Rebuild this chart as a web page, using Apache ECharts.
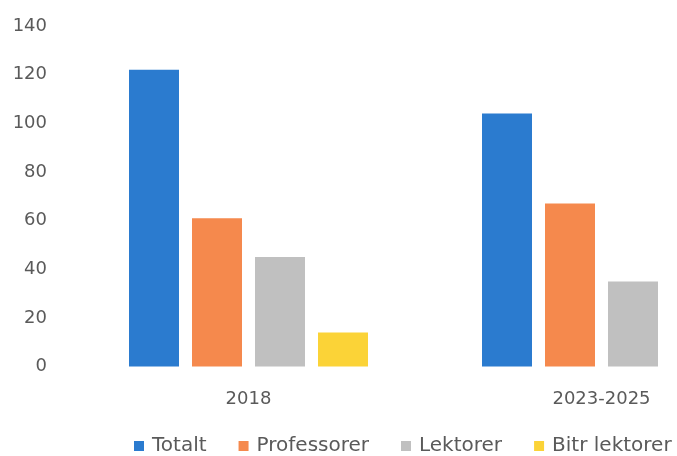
<!DOCTYPE html>
<html>
<head>
<meta charset="utf-8">
<script src="https://cdn.jsdelivr.net/npm/echarts@6/dist/echarts.min.js"></script>
<style>
html,body{margin:0;padding:0;overflow:hidden;background:#fff;width:677px;height:456px;}
#c{width:860px;height:456px;}
</style>
</head>
<body>
<div id="c"></div>
<script>
const categories = ['2018', '2023-2025'];
const seriesNames = ['Totalt', 'Professorer', 'Lektorer', 'Bitr lektorer'];
const totalt = [122, 104];
const professorer = [61, 67];
const lektorer = [45, 35];
const bitrLektorer = [14, null];
const yTicks = {min: 0, max: 140, interval: 20};
const colors = ['#2b7bcf', '#f5894d', '#c0c0c0', '#fbd337'];

const chart = echarts.init(document.getElementById('c'), null, {renderer: 'canvas'});
const font = '"DejaVu Sans", sans-serif';
const values = [totalt, professorer, lektorer, bitrLektorer];
chart.setOption({
  animation: false,
  color: colors,
  grid: {left: 72, width: 706, top: 26, bottom: 89.5, containLabel: false},
  legend: {
    data: seriesNames,
    left: 129, top: 431,
    icon: 'rect', itemWidth: 10, itemHeight: 10, itemGap: 32,
    textStyle: {fontFamily: font, fontSize: 20, color: '#5a5a5a', padding: [0, 0, 0, 3]}
  },
  xAxis: {
    type: 'category', data: categories,
    axisLine: {show: false}, axisTick: {show: false},
    axisLabel: {fontFamily: font, fontSize: 18, color: '#5a5a5a', margin: 24}
  },
  yAxis: {
    type: 'value', min: yTicks.min, max: yTicks.max, interval: yTicks.interval,
    splitLine: {show: false}, axisLine: {show: false}, axisTick: {show: false},
    axisLabel: {fontFamily: font, fontSize: 18, color: '#5a5a5a', margin: 25}
  },
  series: seriesNames.map((n, i) => ({
    name: n, type: 'bar', data: values[i], barWidth: 50, barGap: '26%'
  }))
});
</script>
</body>
</html>
